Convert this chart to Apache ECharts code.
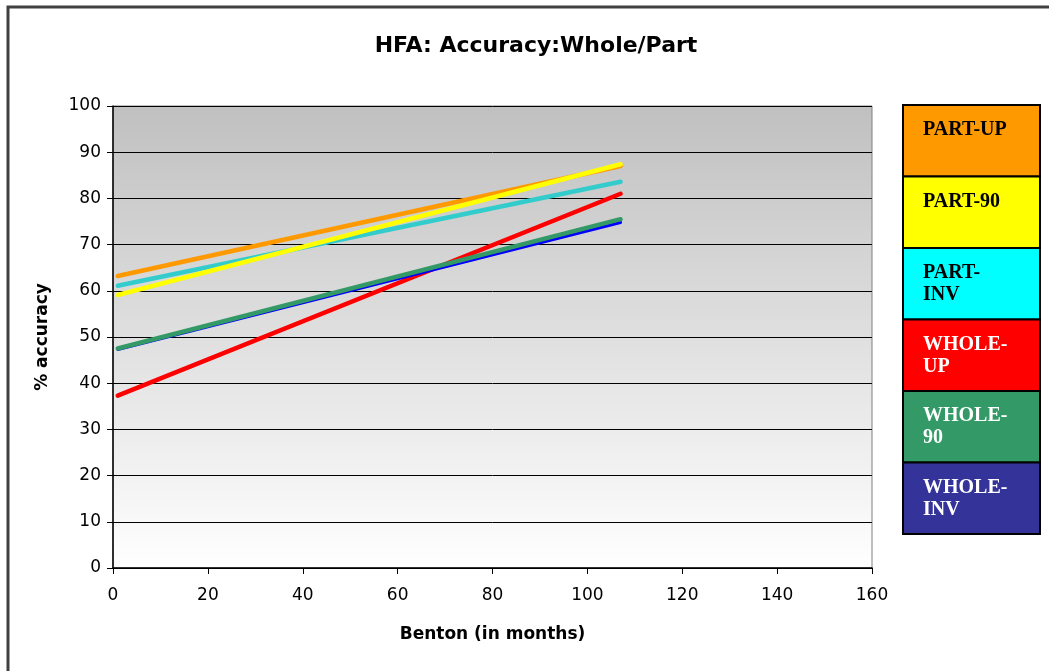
<!DOCTYPE html>
<html>
<head>
<meta charset="utf-8">
<script src="https://cdn.jsdelivr.net/npm/echarts@6/dist/echarts.min.js"></script>
<style>html,body{margin:0;padding:0;background:#fff}#c{width:1049px;height:671px}</style>
</head>
<body>
<div id="c"></div>
<script>
const titleText = 'HFA: Accuracy:Whole/Part';
const xName = 'Benton (in months)';
const yName = '% accuracy';
const xMonths = [1, 107];
const seriesNames = ['PART-UP', 'PART-90', 'PART-INV', 'WHOLE-UP', 'WHOLE-90', 'WHOLE-INV'];
const legendLabels = ['PART-UP', 'PART-90', 'PART-\nINV', 'WHOLE-\nUP', 'WHOLE-\n90', 'WHOLE-\nINV'];
const partUp = [63.2, 87.0];
const part90 = [59.1, 87.4];
const partInv = [61.1, 83.6];
const wholeUp = [37.3, 81.0];
const whole90 = [47.5, 75.5];
const wholeInv = [47.3, 74.8];
const values = [partUp, part90, partInv, wholeUp, whole90, wholeInv];
const lineColors = ['#FF9900', '#FFFF00', '#33CCCC', '#FF0000', '#339966', '#0000FF'];
const boxColors = ['#FF9900', '#FFFF00', '#00FFFF', '#FF0000', '#339966', '#333399'];
const textColors = ['#000', '#000', '#000', '#fff', '#fff', '#fff'];
const zOrder = [3, 4, 2, 1, 6, 5];
const widths = [4.5, 4.5, 4.5, 4.5, 4.5, 3];

const chart = echarts.init(document.getElementById('c'));
const sans = 'DejaVu Sans';

const series = seriesNames.map((n, i) => ({
  name: n, type: 'line', showSymbol: false, symbol: 'none',
  data: xMonths.map((x, j) => [x, values[i][j]]),
  lineStyle: { color: lineColors[i], width: widths[i], cap: 'round' },
  itemStyle: { color: lineColors[i] },
  z: zOrder[i], silent: true, animation: false
}));

const legTop = 105, legLeft = 903, legW = 137, itemH = 71.5;
const graphics = [
  { type: 'rect', shape: { x: 8, y: 7, width: 1060, height: 700 }, style: { fill: 'none', stroke: '#404040', lineWidth: 3 }, z: 0 }
];
seriesNames.forEach((n, i) => {
  graphics.push({ type: 'rect', shape: { x: legLeft, y: legTop + i * itemH, width: legW, height: itemH },
    style: { fill: boxColors[i], stroke: '#000', lineWidth: 2 }, z: 10 });
  graphics.push({ type: 'text', x: legLeft + 20, y: legTop + i * itemH + 14,
    style: { text: legendLabels[i], fill: textColors[i], font: 'bold 20px "Liberation Serif"', lineHeight: 22, verticalAlign: 'top' }, z: 11 });
});

chart.setOption({
  animation: false,
  title: { text: titleText, left: 531, textAlign: 'center', top: 30,
    textStyle: { fontFamily: sans, fontWeight: 'bold', fontSize: 22, color: '#000' } },
  grid: { left: 113, top: 106, right: 177, bottom: 103, show: true,
    backgroundColor: new echarts.graphic.LinearGradient(0, 0, 0, 1, [
      { offset: 0, color: '#c0c0c0' }, { offset: 1, color: '#ffffff' }]),
    borderColor: '#808080', borderWidth: 1 },
  xAxis: { type: 'value', min: 0, max: 160, interval: 20,
    name: xName, nameLocation: 'middle', nameGap: 58,
    nameTextStyle: { fontFamily: sans, fontWeight: 'bold', fontSize: 17, color: '#000' },
    axisLine: { lineStyle: { color: '#000', width: 1.5 } },
    axisTick: { show: true, length: 6, lineStyle: { color: '#000' } },
    axisLabel: { fontFamily: sans, fontSize: 17, color: '#000', margin: 19 },
    splitLine: { show: false } },
  yAxis: { type: 'value', min: 0, max: 100, interval: 10,
    name: yName, nameLocation: 'middle', nameGap: 62, nameRotate: 90,
    nameTextStyle: { fontFamily: sans, fontWeight: 'bold', fontSize: 17, color: '#000' },
    axisLine: { show: true, lineStyle: { color: '#000', width: 1.5 } },
    axisTick: { show: true, length: 6, lineStyle: { color: '#000' } },
    axisLabel: { fontFamily: sans, fontSize: 17, color: '#000', margin: 12 },
    splitLine: { show: true, lineStyle: { color: '#000', width: 1 } } },
  series: series,
  graphic: graphics
});
</script>
</body>
</html>
